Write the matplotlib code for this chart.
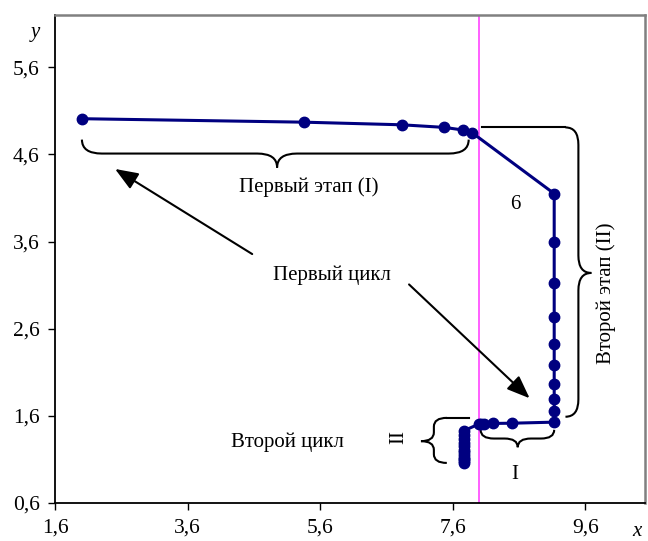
import matplotlib
matplotlib.use('Agg')
import matplotlib.pyplot as plt
from matplotlib.path import Path
from matplotlib.patches import PathPatch

plt.rcParams['font.family'] = ['Liberation Serif', 'DejaVu Serif']

# stage I, stage II (vertical), stage I of cycle 2 (horizontal), stage II of cycle 2
x_vals = [2.0, 5.36, 6.83, 7.475, 7.755, 7.89,
          9.13, 9.13, 9.13, 9.13, 9.13, 9.13, 9.13, 9.13, 9.13, 9.13,
          8.50, 8.21, 8.07, 8.02, 7.99,
          7.77, 7.77, 7.77, 7.77, 7.77, 7.77, 7.77, 7.77, 7.77, 7.77, 7.77, 7.77]
y_vals = [5.01, 4.97, 4.94, 4.91, 4.88, 4.85,
          4.15, 3.59, 3.125, 2.74, 2.43, 2.18, 1.97, 1.795, 1.657, 1.528,
          1.516, 1.513, 1.51, 1.51, 1.505,
          1.43, 1.38, 1.33, 1.29, 1.25, 1.21, 1.18, 1.15, 1.12, 1.10, 1.08, 1.06]

x_ticks = [1.6, 3.6, 5.6, 7.6, 9.6]
y_ticks = [0.6, 1.6, 2.6, 3.6, 4.6, 5.6]
x_line = 7.99


def fmt(v):
    return ('%.1f' % v).replace('.', ',')


def hbrace(ax, x0, x1, xm, y, h, r):
    # horizontal curly brace, tip at y + h
    m = y + h / 2
    verts = [(x0, y), (x0, m), (x0 + r, m), (xm - r, m), (xm, m), (xm, y + h),
             (xm, m), (xm + r, m), (x1 - r, m), (x1, m), (x1, y)]
    codes = [Path.MOVETO, Path.CURVE3, Path.CURVE3, Path.LINETO, Path.CURVE3, Path.CURVE3,
             Path.CURVE3, Path.CURVE3, Path.LINETO, Path.CURVE3, Path.CURVE3]
    ax.add_patch(PathPatch(Path(verts, codes), fill=False, lw=1.5, color='black'))


def vbrace(ax, y0, y1, ym, x, w, r):
    # vertical curly brace, tip at x + w
    m = x + w / 2
    verts = [(x, y0), (m, y0), (m, y0 + r), (m, ym - r), (m, ym), (x + w, ym),
             (m, ym), (m, ym + r), (m, y1 - r), (m, y1), (x, y1)]
    codes = [Path.MOVETO, Path.CURVE3, Path.CURVE3, Path.LINETO, Path.CURVE3, Path.CURVE3,
             Path.CURVE3, Path.CURVE3, Path.LINETO, Path.CURVE3, Path.CURVE3]
    ax.add_patch(PathPatch(Path(verts, codes), fill=False, lw=1.5, color='black'))


fig = plt.figure(figsize=(6.48, 5.41), dpi=100)
ax = fig.add_axes([0.0849, 0.0702, 0.9105, 0.9021])

ax.axvline(x_line, color='#ff44ff', lw=1.2, zorder=1)
ax.plot(x_vals, y_vals, color='#000080', lw=2.2, marker='o', ms=7.5, zorder=3)

ax.set_xlim(1.6, 10.5)
ax.set_ylim(0.6, 6.2)
ax.set_xticks(x_ticks)
ax.set_yticks(y_ticks)
ax.set_xticklabels([fmt(v) for v in x_ticks])
ax.set_yticklabels([fmt(v) for v in y_ticks])
ax.tick_params(direction='out', length=5, width=1, labelsize=15.5, pad=6)

for s in ['left', 'bottom']:
    ax.spines[s].set_color('black')
    ax.spines[s].set_linewidth(1.3)
for s in ['top', 'right']:
    ax.spines[s].set_color('#808080')
    ax.spines[s].set_linewidth(1.8)

# braces
hbrace(ax, 2.006, 7.84, 4.95, 4.77, -0.32, 0.3)
vbrace(ax, 4.91, 1.59, 3.24, 9.30, 0.39, -0.2)
ax.plot([8.04, 9.30], [4.91, 4.91], color='black', lw=1.5)
hbrace(ax, 8.02, 9.13, 8.58, 1.44, -0.2, 0.2)
vbrace(ax, 1.577, 1.06, 1.31, 7.51, -0.39, -0.1)
ax.plot([7.51, 7.84], [1.577, 1.577], color='black', lw=1.5)

# arrows
arrow = dict(arrowstyle='-|>,head_length=1.4,head_width=0.55', color='black', lw=1.5)
ax.annotate('', xy=(2.47, 4.45), xytext=(4.61, 3.44), arrowprops=arrow)
ax.annotate('', xy=(8.79, 1.78), xytext=(6.91, 3.13), arrowprops=arrow)

ts = 15
ax.text(5.43, 4.23, 'Первый этап (I)', ha='center', va='center', fontsize=ts)
ax.text(5.78, 3.21, 'Первый цикл', ha='center', va='center', fontsize=ts)
ax.text(8.55, 4.03, '6', ha='center', va='center', fontsize=ts)
ax.text(9.92, 3.01, 'Второй этап (II)', ha='center', va='center', fontsize=ts, rotation=90)
ax.text(5.10, 1.30, 'Второй цикл', ha='center', va='center', fontsize=ts)
ax.text(6.79, 1.36, 'II', ha='center', va='center', fontsize=ts, rotation=90)
ax.text(8.53, 0.93, 'I', ha='center', va='center', fontsize=ts)

fig.text(35 / 648, 1 - 32 / 541, 'y', style='italic', fontsize=15, ha='center', va='center')
fig.text(637 / 648, 1 - 532 / 541, 'x', style='italic', fontsize=15, ha='center', va='center')

fig.savefig('out.png', dpi=100)
